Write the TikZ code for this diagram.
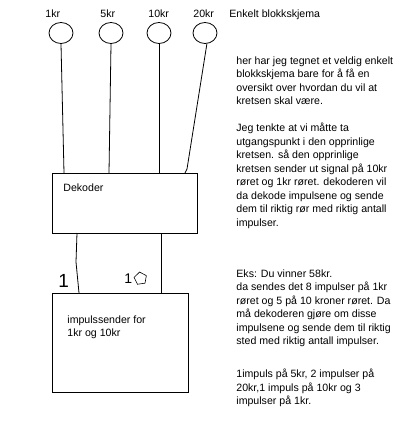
\documentclass[tikz,border=0pt]{standalone}
\usepackage{fontspec}
\setmainfont{Liberation Sans}
\usetikzlibrary{shapes.geometric}
\tikzset{
  roer/.style={draw,ellipse,minimum width=24pt,minimum height=21pt,inner sep=0pt},
  blokk/.style={draw,rectangle,inner sep=0pt},
  merke/.style={anchor=base west,inner sep=0pt,font=\fontsize{10.6}{13.5}\selectfont},
  tekst/.style={anchor=north west,inner sep=0pt,align=left,font=\fontsize{10.6}{13.5}\selectfont},
  handskrift/.style={anchor=base west,inner sep=0pt,font=\fontsize{#1}{#1}\selectfont}
}
\begin{document}
\begin{tikzpicture}[x=1pt,y=-1pt,line width=.8pt]
\useasboundingbox[fill=white] (0,0) rectangle (415,435);
% roerene
\node[roer] (r1) at (61,33) {};
\node[roer] (r5) at (111,33) {};
\node[roer] (r10) at (159,33) {};
\node[roer] (r20) at (205,33) {};
\node[merke] (l1) at (45,18) {1kr};
\node[merke] (l5) at (100,18) {5kr};
\node[merke] (l10) at (148,18) {10kr};
\node[merke] (l20) at (193,18) {20kr};
\node[merke] (tittel) at (229,18) {Enkelt blokkskjema};
% blokkene
\node[blokk,minimum width=145pt,minimum height=60pt] (dek) at (124.5,203) {};
\node[merke] (dektxt) at (63,192) {Dekoder};
\node[blokk,minimum width=136pt,minimum height=99pt] (imp) at (120,342.5) {};
\node[tekst] (imptxt) at (67,315) {impulssender for\\1kr og 10kr};
% ledninger
\coordinate (d1) at (64,173);
\coordinate (d5) at (109,173);
\coordinate (d10) at (159,173);
\coordinate (d20) at (185,173);
\draw (r1.south) -- (d1);
\draw (r5.south) -- (d5);
\draw (r10.south) -- (d10);
\draw (r20.-80) -- (187,169) -- (d20);
\coordinate (u1) at (77,233);
\coordinate (u10) at (161,233);
\coordinate (i1) at (79,293);
\coordinate (i10) at (161,293);
\draw (u1) -- (76,262) -- (i1);
\draw (u10) -- (i10);
\node[handskrift=19] (en) at (58,287) {1};
\node[handskrift=14] (ti) at (124,283) {1};
\node[draw,regular polygon,regular polygon sides=5,minimum size=13pt,inner sep=0pt,line width=.6pt,rotate=8] (null) at (140.5,278.5) {};
% forklaring
\node[tekst] (p1) at (236,56) {her har jeg tegnet et veldig enkelt\\blokkskjema bare for å få en\\oversikt over hvordan du vil at\\kretsen skal være.};
\node[tekst] (p2) at (236,123) {Jeg tenkte at vi måtte ta\\utgangspunkt i den opprinlige\\kretsen. så den opprinlige\\kretsen sender ut signal på 10kr\\røret og 1kr røret. dekoderen vil\\da dekode impulsene og sende\\dem til riktig rør med riktig antall\\impulser.};
\node[tekst] (p3) at (236,269) {Eks: Du vinner 58kr.\\da sendes det 8 impulser på 1kr\\røret og 5 på 10 kroner røret. Da\\må dekoderen gjøre om disse\\impulsene og sende dem til riktig\\sted med riktig antall impulser.};
\node[tekst] (p4) at (236,369) {1impuls på 5kr, 2 impulser på\\20kr,1 impuls på 10kr og 3\\impulser på 1kr.};
\end{tikzpicture}
\end{document}
